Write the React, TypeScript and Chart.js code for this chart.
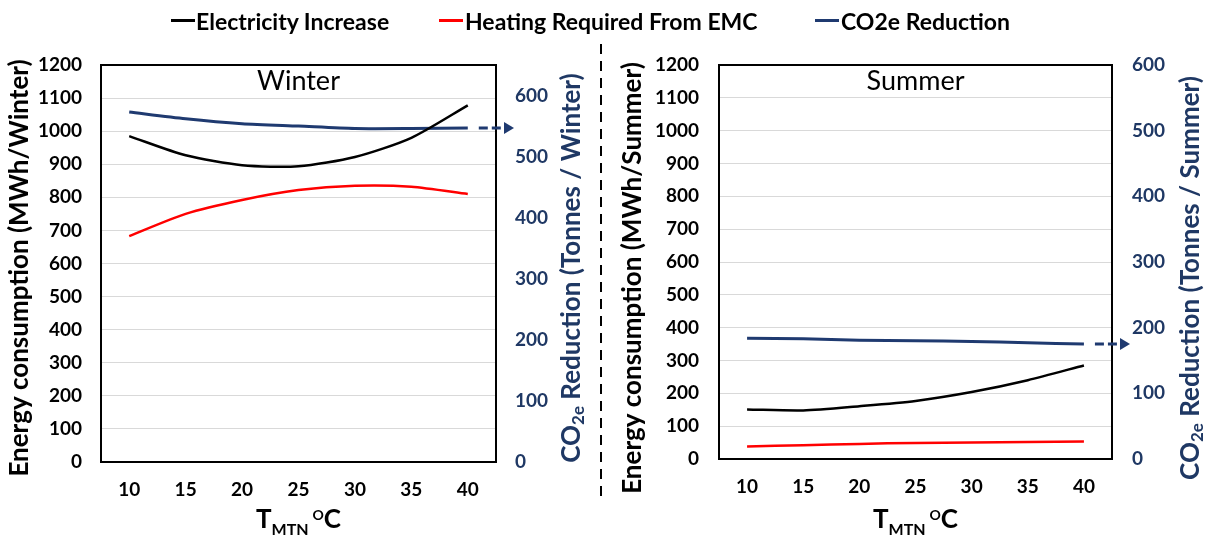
import React, { useEffect, useRef } from "react";
import { Chart, registerables } from "chart.js";

Chart.register(...registerables);

// Mean temperature settings (°C) along the horizontal axis
const temperatures = ["10", "15", "20", "25", "30", "35", "40"];

const seriesNames = ["Electricity Increase", "Heating Required From EMC", "CO2e Reduction"];
const seriesColors = ["#000000", "#FF0000", "#1F3A70"];

// Winter season: MWh/Winter (left axis) and Tonnes/Winter (right axis)
const winterElectricity = [985, 927, 897, 894, 922, 980, 1078];
const winterHeating = [683, 750, 792, 822, 835, 832, 810];
const winterCo2 = [573, 562, 554, 550, 546, 546, 547];

// Summer season: MWh/Summer (left axis) and Tonnes/Summer (right axis)
const summerElectricity = [151, 148, 161, 177, 204, 240, 285];
const summerHeating = [38, 42, 46, 49, 50, 52, 53];
const summerCo2 = [184, 183, 181, 180, 179, 177, 175];

const energyMax = 1200;
const energyStep = 100;
const winterCo2Max = 650;
const summerCo2Max = 600;
const co2Step = 100;

const FONT = "Lato, 'Open Sans', sans-serif";
const NAVY = "#1F3864";
const W = 1215;
const H = 540;

type Run = { text: string; size: number; dy?: number };

type Panel = {
  season: string;
  electricity: number[];
  heating: number[];
  co2: number[];
  co2Max: number;
  canvasLeft: number;
  canvasWidth: number;
  box: { left: number; right: number; top: number; bottom: number };
  leftTitleX: number;
  rightTitleX: number;
  titleCenterY: number;
  tickPad: number;
};

const panels: Panel[] = [
  {
    season: "Winter",
    electricity: winterElectricity,
    heating: winterHeating,
    co2: winterCo2,
    co2Max: winterCo2Max,
    canvasLeft: 0,
    canvasWidth: 607,
    box: { left: 101, right: 496, top: 65, bottom: 462 },
    leftTitleX: 20,
    rightTitleX: 572,
    titleCenterY: 268,
    tickPad: 19,
  },
  {
    season: "Summer",
    electricity: summerElectricity,
    heating: summerHeating,
    co2: summerCo2,
    co2Max: summerCo2Max,
    canvasLeft: 607,
    canvasWidth: 608,
    box: { left: 112, right: 505, top: 65, bottom: 459 },
    leftTitleX: 26,
    rightTitleX: 584,
    titleCenterY: 278,
    tickPad: 20,
  },
];

// Draws a sequence of text runs (for sub/superscripts) centred on cx
function drawRuns(ctx: CanvasRenderingContext2D, runs: Run[], weight: string, cx: number, y: number) {
  const widths = runs.map((r) => {
    ctx.font = `${weight} ${r.size}px ${FONT}`;
    return ctx.measureText(r.text).width;
  });
  const total = widths.reduce((a, b) => a + b, 0);
  let x = cx - total / 2;
  ctx.textAlign = "left";
  runs.forEach((r, i) => {
    ctx.font = `${weight} ${r.size}px ${FONT}`;
    ctx.fillText(r.text, x, y + (r.dy || 0));
    x += widths[i];
  });
}

function SeasonChart({ panel }: { panel: Panel }) {
  const ref = useRef<HTMLCanvasElement>(null);

  useEffect(() => {
    const p = panel;
    const canvas = ref.current;
    if (!canvas) return;

    const decor = {
      id: "seasonDecor",
      afterDraw(chart: any) {
        const ctx: CanvasRenderingContext2D = chart.ctx;
        const { left, right, top, bottom } = chart.chartArea;
        const cx = (left + right) / 2;
        ctx.save();

        // plot frame
        ctx.strokeStyle = "#000";
        ctx.lineWidth = 2;
        ctx.strokeRect(left, top, right - left, bottom - top);

        // season label inside the plot
        ctx.fillStyle = "#000";
        ctx.font = `400 27px ${FONT}`;
        ctx.textAlign = "center";
        ctx.textBaseline = "alphabetic";
        ctx.fillText(p.season, cx, 90);

        // dashed arrow pointing the CO2e line to its axis
        const xs = chart.scales.x;
        const yr = chart.scales.yCo2;
        const last = p.co2.length - 1;
        const ay = yr.getPixelForValue(p.co2[last]);
        const ax0 = xs.getPixelForValue(last) + 11;
        const ax1 = right + 18;
        ctx.strokeStyle = seriesColors[2];
        ctx.lineWidth = 3;
        ctx.setLineDash([9, 4]);
        ctx.beginPath();
        ctx.moveTo(ax0, ay);
        ctx.lineTo(ax1 - 6, ay);
        ctx.stroke();
        ctx.setLineDash([]);
        ctx.fillStyle = seriesColors[2];
        ctx.beginPath();
        ctx.moveTo(ax1, ay);
        ctx.lineTo(ax1 - 10, ay - 6);
        ctx.lineTo(ax1 - 10, ay + 6);
        ctx.closePath();
        ctx.fill();

        // horizontal axis title: T_MTN °C
        ctx.fillStyle = "#000";
        ctx.textBaseline = "alphabetic";
        drawRuns(
          ctx,
          [
            { text: "T", size: 26 },
            { text: "MTN", size: 16, dy: 7 },
            { text: " ", size: 16 },
            { text: "O", size: 14, dy: -8 },
            { text: "C", size: 26 },
          ],
          "bold",
          cx,
          528
        );

        // left axis title
        ctx.textBaseline = "middle";
        ctx.save();
        ctx.translate(p.leftTitleX, p.titleCenterY);
        ctx.rotate(-Math.PI / 2);
        ctx.fillStyle = "#000";
        drawRuns(ctx, [{ text: `Energy consumption (MWh/${p.season})`, size: 26 }], "bold", 0, 0);
        ctx.restore();

        // right axis title with CO2e subscript
        ctx.save();
        ctx.translate(p.rightTitleX, p.titleCenterY);
        ctx.rotate(-Math.PI / 2);
        ctx.fillStyle = NAVY;
        drawRuns(
          ctx,
          [
            { text: "CO", size: 26 },
            { text: "2e", size: 17, dy: 7 },
            { text: ` Reduction (Tonnes / ${p.season})`, size: 26 },
          ],
          "bold",
          0,
          0
        );
        ctx.restore();

        ctx.restore();
      },
    };

    const tickFont = { family: FONT, size: 19, weight: "bold" as const };
    const plain = (v: any) => String(v);

    const chart = new Chart(canvas, {
      type: "line",
      data: {
        labels: temperatures,
        datasets: [
          {
            label: seriesNames[0],
            data: p.electricity,
            yAxisID: "yEnergy",
            borderColor: seriesColors[0],
            backgroundColor: seriesColors[0],
            borderWidth: 2.5,
            pointRadius: 0,
            tension: 0.25,
            fill: false,
          },
          {
            label: seriesNames[1],
            data: p.heating,
            yAxisID: "yEnergy",
            borderColor: seriesColors[1],
            backgroundColor: seriesColors[1],
            borderWidth: 2.5,
            pointRadius: 0,
            tension: 0.25,
            fill: false,
          },
          {
            label: seriesNames[2],
            data: p.co2,
            yAxisID: "yCo2",
            borderColor: seriesColors[2],
            backgroundColor: seriesColors[2],
            borderWidth: 3,
            pointRadius: 0,
            tension: 0.25,
            fill: false,
          },
        ],
      },
      options: {
        responsive: false,
        animation: false,
        devicePixelRatio: 1,
        layout: { padding: { top: p.box.top, left: 0, right: 0, bottom: 0 } },
        plugins: {
          legend: { display: false },
          tooltip: { enabled: false },
          title: { display: false },
        },
        scales: {
          x: {
            type: "category",
            offset: true,
            grid: { display: false, drawTicks: false },
            border: { display: false },
            ticks: { color: "#000", font: tickFont, padding: 16, maxRotation: 0, autoSkip: false },
            afterFit: (s: any) => {
              s.height = H - p.box.bottom;
            },
          },
          yEnergy: {
            type: "linear",
            position: "left",
            min: 0,
            max: energyMax,
            grid: { color: "#D9D9D9", lineWidth: 1, drawTicks: false },
            border: { display: false },
            ticks: { stepSize: energyStep, color: "#000", font: tickFont, padding: p.tickPad, callback: plain },
            afterFit: (s: any) => {
              s.width = p.box.left;
            },
          },
          yCo2: {
            type: "linear",
            position: "right",
            min: 0,
            max: p.co2Max,
            grid: { display: false, drawTicks: false },
            border: { display: false },
            ticks: {
              stepSize: co2Step,
              includeBounds: false,
              color: NAVY,
              font: tickFont,
              padding: p.tickPad,
              callback: plain,
            },
            afterFit: (s: any) => {
              s.width = p.canvasWidth - p.box.right;
            },
          },
        },
      } as any,
      plugins: [decor],
    });

    return () => chart.destroy();
  }, [panel]);

  return (
    <canvas
      ref={ref}
      width={panel.canvasWidth}
      height={H}
      style={{
        position: "absolute",
        left: panel.canvasLeft,
        top: 0,
        width: panel.canvasWidth,
        height: H,
      }}
    />
  );
}

const legendLayout = [
  { lineLeft: 171, textLeft: 196 },
  { lineLeft: 439, textLeft: 465 },
  { lineLeft: 815, textLeft: 841 },
];

export default function App() {
  return (
    <div
      style={{
        position: "absolute",
        left: 0,
        top: 0,
        width: W,
        height: H,
        background: "#fff",
        overflow: "hidden",
        fontFamily: FONT,
      }}
    >
      {panels.map((p) => (
        <SeasonChart key={p.season} panel={p} />
      ))}

      {/* shared legend */}
      {seriesNames.map((name, i) => (
        <React.Fragment key={name}>
          <div
            style={{
              position: "absolute",
              left: legendLayout[i].lineLeft,
              top: 19,
              width: 24,
              height: 3,
              background: seriesColors[i],
            }}
          />
          <div
            style={{
              position: "absolute",
              left: legendLayout[i].textLeft,
              top: 0,
              height: 42,
              display: "flex",
              alignItems: "center",
              fontWeight: 700,
              fontSize: 23,
              color: "#000",
              whiteSpace: "nowrap",
            }}
          >
            {name}
          </div>
        </React.Fragment>
      ))}

      {/* dashed separator between the seasons */}
      <svg width={10} height={H} style={{ position: "absolute", left: 596, top: 0 }}>
        <line x1={5} y1={44} x2={5} y2={500} stroke="#000" strokeWidth={2} strokeDasharray="10 7" />
      </svg>
    </div>
  );
}
